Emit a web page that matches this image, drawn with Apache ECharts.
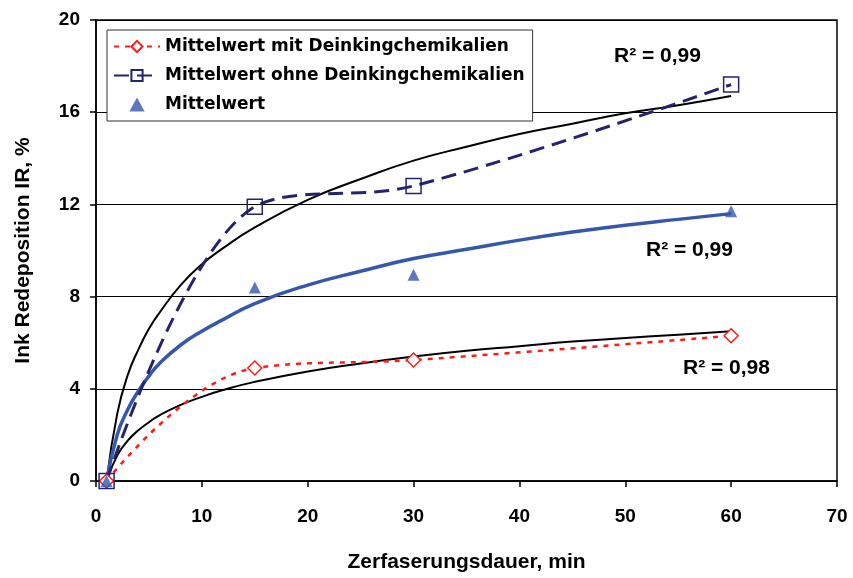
<!DOCTYPE html>
<html>
<head>
<meta charset="utf-8">
<script src="https://cdn.jsdelivr.net/npm/echarts@6/dist/echarts.min.js"></script>
<style>
  html, body { margin: 0; padding: 0; background: #fff; }
  #chart { width: 853px; height: 578px; }
</style>
</head>
<body>
<div id="chart"></div>
<script>
// messwerte
var xMess = [1, 15, 30, 60];
var mitChemie = [0, 4.9, 5.25, 6.3];
var ohneChemie = [0, 11.9, 12.8, 17.2];
var mittelwert = [0, 8.4, 8.95, 11.7];

// trendlinien
var xTrend = [1, 2, 3, 4, 5, 6, 8, 10, 12, 15, 20, 25, 30, 35, 40, 45, 50, 55, 60];
var trendOben = [0, 2.9, 4.6, 5.7, 6.6, 7.3, 8.5, 9.4, 10.1, 11.0, 12.2, 13.1, 13.9, 14.5, 15.05, 15.5, 15.95, 16.3, 16.7];
var trendMitte = [0, 2.0, 3.1, 3.9, 4.55, 5.1, 5.9, 6.5, 7.0, 7.7, 8.5, 9.1, 9.65, 10.05, 10.45, 10.8, 11.1, 11.35, 11.6];
var trendUnten = [0, 1.1, 1.75, 2.2, 2.55, 2.85, 3.3, 3.65, 3.95, 4.3, 4.75, 5.1, 5.4, 5.65, 5.85, 6.05, 6.2, 6.35, 6.5];

var xTicks = [0, 10, 20, 30, 40, 50, 60, 70];
var yTicks = [0, 4, 8, 12, 16, 20];

function pairs(xs, ys) {
    var out = [];
    for (var i = 0; i < xs.length; i++) out.push([xs[i], ys[i]]);
    return out;
}

var red = '#ff1a1a', navy = '#24246e', blue = '#3558ad';
var font = 'Liberation Sans, Arial, sans-serif';

var myChart = echarts.init(document.getElementById('chart'));
myChart.setOption({
    animation: false,
    backgroundColor: '#fff',
    textStyle: { fontFamily: font },
    grid: {
        left: 96, right: 16, top: 20, bottom: 94,
        show: true, borderColor: '#000', borderWidth: 1.5
    },
    legend: {
        orient: 'vertical',
        left: 107, top: 30,
        padding: [8, 8, 8, 6],
        itemGap: 12,
        itemWidth: 46, itemHeight: 14,
        borderColor: '#333', borderWidth: 1,
        backgroundColor: '#fff',
        textStyle: { fontFamily: 'DejaVu Sans, sans-serif', fontWeight: 'bold', fontSize: 17, color: '#000' },
        data: [
            'Mittelwert mit Deinkingchemikalien',
            'Mittelwert ohne Deinkingchemikalien',
            { name: 'Mittelwert', icon: 'path://M6,0 L12,11 L0,11 Z' }
        ]
    },
    xAxis: {
        type: 'value', min: 0, max: 70, interval: 10,
        name: 'Zerfaserungsdauer, min', nameLocation: 'middle', nameGap: 71,
        nameTextStyle: { fontFamily: font, fontWeight: 'bold', fontSize: 21, color: '#000' },
        axisLine: { lineStyle: { color: '#000', width: 1.5 } },
        axisTick: { show: true, inside: false, length: 6, lineStyle: { color: '#000', width: 1.5 } },
        axisLabel: {
            margin: 26, fontFamily: font, fontWeight: 'bold', fontSize: 19, color: '#000',
            formatter: function (v) { return xTicks.indexOf(v) >= 0 ? String(v) : ''; }
        },
        splitLine: { show: false }
    },
    yAxis: {
        type: 'value', min: 0, max: 20, interval: 4,
        name: 'Ink Redeposition IR, %', nameLocation: 'middle', nameGap: 62,
        nameTextStyle: { fontFamily: font, fontWeight: 'bold', fontSize: 21, color: '#000' },
        axisLine: { show: true, lineStyle: { color: '#000', width: 1.5 } },
        axisTick: { show: true, inside: false, length: 6, lineStyle: { color: '#000', width: 1.5 } },
        axisLabel: {
            margin: 16, fontFamily: font, fontWeight: 'bold', fontSize: 19, color: '#000',
            formatter: function (v) { return yTicks.indexOf(v) >= 0 ? String(v) : ''; }
        },
        splitLine: { show: true, lineStyle: { color: '#000', width: 1.2 } }
    },
    series: [
        {
            name: 'trend oben', type: 'line', data: pairs(xTrend, trendOben),
            smooth: true, showSymbol: false, silent: true,
            lineStyle: { color: '#000', width: 2 }, z: 2
        },
        {
            name: 'trend mitte', type: 'line', data: pairs(xTrend, trendMitte),
            smooth: true, showSymbol: false, silent: true,
            lineStyle: { color: blue, width: 3.5 }, z: 2
        },
        {
            name: 'trend unten', type: 'line', data: pairs(xTrend, trendUnten),
            smooth: true, showSymbol: false, silent: true,
            lineStyle: { color: '#000', width: 2 }, z: 2
        },
        {
            name: 'Mittelwert mit Deinkingchemikalien', type: 'line',
            data: pairs(xMess, mitChemie), smooth: 0.4,
            symbol: 'diamond', symbolSize: 14, showAllSymbol: true,
            itemStyle: { color: '#fff', borderColor: red, borderWidth: 1.5 },
            lineStyle: { color: red, width: 2.5, type: [5, 6] }, z: 3
        },
        {
            name: 'Mittelwert ohne Deinkingchemikalien', type: 'line',
            data: pairs(xMess, ohneChemie), smooth: 0.35,
            symbol: 'rect', symbolSize: 15, showAllSymbol: true,
            itemStyle: { color: 'rgba(255,255,255,0)', borderColor: navy, borderWidth: 1.5 },
            lineStyle: { color: navy, width: 3, type: [15, 8] }, z: 3
        },
        {
            name: 'Mittelwert', type: 'scatter',
            data: pairs(xMess, mittelwert),
            symbol: 'triangle', symbolSize: 12,
            itemStyle: { color: blue }, z: 4
        }
    ],
    graphic: [
        { type: 'text', left: 614, top: 46, style: { text: 'R² = 0,99', font: 'bold 21px ' + font, fill: '#000' } },
        { type: 'text', left: 646, top: 240, style: { text: 'R² = 0,99', font: 'bold 21px ' + font, fill: '#000' } },
        { type: 'text', left: 683, top: 358, style: { text: 'R² = 0,98', font: 'bold 21px ' + font, fill: '#000' } }
    ]
});
</script>
</body>
</html>
